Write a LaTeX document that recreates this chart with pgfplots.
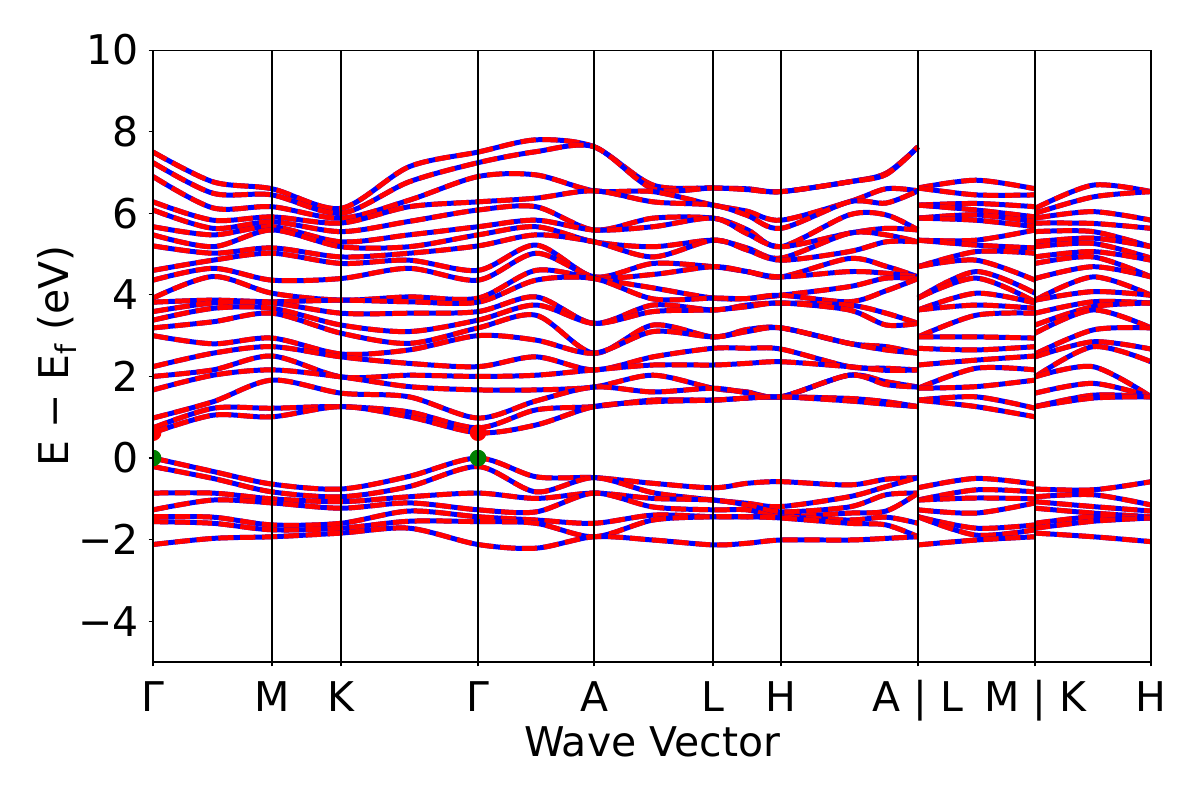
\documentclass[border=0pt]{standalone}
\usepackage{fontspec}
\setmainfont{DejaVu Sans}
\usepackage{pgfplots}
\usepackage{pgfplotstable}
\pgfplotsset{compat=1.18}

% x positions: Gamma=0, M=119, K=188, Gamma=325, A=441, L=560, H=628, A|L=765, M|K=882, H=998
\pgfplotstableread{
x c1 c2 c3 c4 c5 c6 c7 c8 c9 c10 c11 c12 c13 c14 c15 c16 c17 c18 c19 c20 c21 c22 v1 v2 v3 v4 v5 v6 v7
0 7.50 7.24 6.90 6.28 6.08 5.67 5.47 5.20 4.60 4.36 3.92 3.82 3.59 3.38 3.19 3.00 2.24 2.00 1.67 0.98 0.74 0.62 0.00 -0.21 -0.86 -1.27 -1.44 -1.56 -2.12
60 6.77 6.49 6.13 5.83 5.63 5.47 5.18 5.02 4.85 4.65 4.45 3.87 3.80 3.67 3.34 2.80 2.57 2.16 2.03 1.38 1.22 1.05 -0.33 -0.50 -0.86 -1.03 -1.45 -1.60 -1.97
119 6.60 6.45 6.16 5.91 5.79 5.67 5.59 5.15 5.02 4.36 4.04 3.83 3.80 3.67 3.55 2.94 2.73 2.50 2.16 1.91 1.22 1.01 -0.64 -0.83 -1.00 -1.10 -1.64 -1.76 -1.93
188 6.12 6.00 5.88 5.76 5.55 5.30 5.18 4.93 4.77 4.40 3.87 3.87 3.55 3.26 3.06 2.55 2.48 1.99 1.99 1.59 1.26 1.26 -0.76 -0.95 -1.07 -1.23 -1.60 -1.72 -1.84
256 7.14 6.77 6.32 6.16 5.80 5.47 5.18 5.02 4.85 4.65 3.95 3.83 3.55 3.10 2.81 2.65 2.32 2.03 1.75 1.50 1.13 1.01 -0.45 -0.70 -0.95 -1.10 -1.30 -1.55 -1.72
325 7.50 7.24 6.90 6.28 6.08 5.67 5.47 5.20 4.60 4.36 3.92 3.82 3.59 3.38 3.19 3.00 2.24 2.00 1.67 0.98 0.74 0.62 0.00 -0.21 -0.86 -1.27 -1.44 -1.56 -2.12
383 7.80 7.51 6.94 6.37 6.16 5.83 5.67 5.47 5.22 5.02 4.60 4.36 3.95 3.75 3.50 2.89 2.48 2.03 1.67 1.40 1.18 0.81 -0.46 -0.83 -0.99 -1.32 -1.52 -1.60 -2.21
441 7.63 7.63 6.55 6.55 5.59 5.59 5.30 5.30 4.44 4.44 4.40 4.40 3.30 3.30 2.57 2.57 2.16 2.16 1.74 1.74 1.26 1.26 -0.48 -0.48 -0.86 -0.86 -1.60 -1.93 -1.93
500 6.69 6.60 6.53 6.28 5.88 5.67 5.18 4.93 4.77 4.50 4.17 3.90 3.75 3.59 3.26 3.10 2.48 2.28 2.03 1.62 1.42 1.38 -0.62 -0.85 -0.99 -1.20 -1.40 -1.52 -2.01
560 6.62 6.62 6.20 6.20 5.88 5.88 5.34 5.34 4.69 4.69 3.92 3.92 3.63 3.63 2.97 2.97 2.69 2.28 1.71 1.71 1.42 1.42 -0.73 -1.03 -1.03 -1.27 -1.44 -1.44 -2.13
594 6.60 6.58 6.05 5.95 5.60 5.50 5.15 5.10 4.57 4.57 3.91 3.91 3.75 3.71 3.15 3.10 2.69 2.32 1.62 1.60 1.47 1.47 -0.62 -1.11 -1.15 -1.27 -1.44 -1.44 -2.09
628 6.53 6.53 5.83 5.63 5.18 5.18 4.90 4.85 4.44 4.44 3.99 3.99 3.80 3.80 3.19 3.19 2.67 2.36 1.50 1.50 1.50 1.50 -0.58 -1.19 -1.32 -1.44 -1.44 -1.47 -2.01
696 6.77 6.77 6.28 6.28 5.96 5.51 5.51 5.06 4.89 4.57 4.20 3.83 3.75 3.63 2.81 2.81 2.24 2.24 2.03 2.03 1.46 1.40 -0.66 -0.95 -1.20 -1.35 -1.52 -1.60 -2.01
733 6.98 6.95 6.60 6.25 5.96 5.63 5.47 5.30 4.70 4.53 4.41 4.10 3.55 3.26 2.73 2.65 2.20 2.15 1.87 1.80 1.38 1.32 -0.52 -0.70 -0.90 -1.30 -1.45 -1.64 -1.97
765 7.63 7.63 6.55 6.55 5.59 5.59 5.30 5.30 4.44 4.44 4.40 4.40 3.30 3.30 2.57 2.57 2.16 2.16 1.74 1.74 1.26 1.26 -0.48 -0.48 -0.86 -0.86 -1.60 -1.93 -1.93
}\segA

\pgfplotstableread{
x c1 c2 c3 c4 c5 c6 c7 c8 c9 c10 c11 c12 c13 c14 c15 c16 c17 c18 c19 c20 c21 c22 v1 v2 v3 v4 v5 v6 v7
765 6.62 6.62 6.20 6.20 5.88 5.88 5.34 5.34 4.69 4.69 3.92 3.92 3.63 3.63 2.97 2.97 2.69 2.28 1.71 1.71 1.42 1.42 -0.73 -1.03 -1.03 -1.27 -1.44 -1.44 -2.13
823 6.81 6.45 6.24 6.08 5.96 5.83 5.34 5.22 5.06 4.85 4.57 4.41 4.04 3.75 3.50 2.97 2.65 2.40 2.20 1.75 1.50 1.26 -0.50 -0.78 -0.98 -1.35 -1.72 -1.89 -2.01
882 6.60 6.45 6.16 5.91 5.79 5.67 5.59 5.15 5.02 4.36 4.04 3.83 3.80 3.67 3.55 2.94 2.73 2.50 2.16 1.91 1.22 1.01 -0.64 -0.83 -1.00 -1.10 -1.64 -1.76 -1.93
}\segB

\pgfplotstableread{
x c1 c2 c3 c4 c5 c6 c7 c8 c9 c10 c11 c12 c13 c14 c15 c16 c17 c18 c19 c20 c21 c22 v1 v2 v3 v4 v5 v6 v7
882 6.12 6.00 5.88 5.76 5.55 5.30 5.18 4.93 4.77 4.40 3.87 3.87 3.55 3.26 3.06 2.55 2.48 1.99 1.99 1.59 1.26 1.26 -0.76 -0.95 -1.07 -1.23 -1.60 -1.72 -1.84
940 6.69 6.40 6.04 5.75 5.55 5.39 5.26 5.06 4.93 4.69 4.44 4.08 3.83 3.71 3.63 3.14 2.85 2.73 2.24 1.83 1.54 1.47 -0.78 -0.90 -1.19 -1.35 -1.44 -1.55 -1.93
998 6.53 6.53 5.83 5.63 5.18 5.18 4.90 4.85 4.44 4.44 3.99 3.99 3.80 3.80 3.19 3.19 2.67 2.36 1.50 1.50 1.50 1.50 -0.58 -1.15 -1.30 -1.44 -1.47 -1.47 -2.05
}\segC

\begin{document}
\begin{tikzpicture}
\path[use as bounding box] (0,0) rectangle (433.6pt,289.1pt);
\begin{axis}[
  at={(55.3pt,49.9pt)}, anchor=south west,
  scale only axis, width=360.6pt, height=221.1pt,
  xmin=0, xmax=998, ymin=-5, ymax=10,
  axis on top,
  clip marker paths=true,
  axis line style={black, line width=0.4pt},
  xtick={0,119,188,325,441,560,628,765,882,998},
  xticklabels={Γ,M,K,Γ,A,L,H,A | L,M | K,H},
  ytick={-4,-2,0,2,4,6,8,10},
  yticklabels={−4,−2,0,2,4,6,8,10},
  xtick pos=left, ytick pos=left,
  tick align=outside, major tick length=1.6pt,
  tick style={black, line width=0.4pt},
  xmajorgrids, major grid style={black, line width=0.7pt},
  tick label style={font=\fontsize{14.8pt}{17.8pt}\selectfont},
  label style={font=\fontsize{14.8pt}{17.8pt}\selectfont},
  xticklabel style={anchor=base, yshift=-16.3pt},
  xlabel={Wave Vector},
  ylabel={E − E\textsubscript{f} (eV)},
  xlabel style={at={(axis description cs:0.5,-0.131)}, anchor=center},
  ylabel style={at={(axis description cs:-0.0962,0.5)}, anchor=center},
  bandB/.style={blue, line width=1.8pt, smooth, tension=0.5},
  bandR/.style={red, line width=1.8pt, smooth, tension=0.5, dash pattern=on 5.5pt off 2.4pt},
]
\pgfplotsinvokeforeach{c1,c2,c3,c4,c5,c6,c7,c8,c9,c10,c11,c12,c13,c14,c15,c16,c17,c18,c19,c20,c21,c22,v1,v2,v3,v4,v5,v6,v7}{
  \addplot[bandB] table[x=x,y=#1]{\segA};
  \addplot[bandR] table[x=x,y=#1]{\segA};
  \addplot[bandB] table[x=x,y=#1]{\segB};
  \addplot[bandR] table[x=x,y=#1]{\segB};
  \addplot[bandB] table[x=x,y=#1]{\segC};
  \addplot[bandR] table[x=x,y=#1]{\segC};
}
\addplot[only marks, mark=*, mark size=2.8pt, red] coordinates {(0,0.62) (325,0.62)};
\addplot[only marks, mark=*, mark size=2.8pt, color={rgb,255:red,0;green,128;blue,0}] coordinates {(0,0) (325,0)};
\end{axis}
\end{tikzpicture}
\end{document}
